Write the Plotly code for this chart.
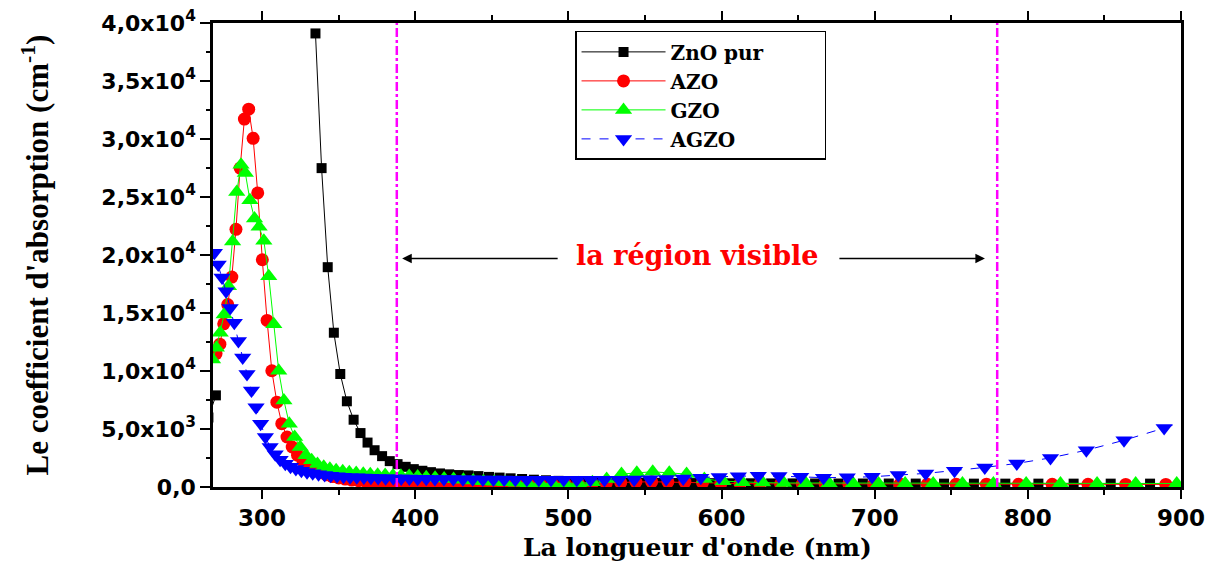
import plotly.graph_objects as go

# ---------------- data ----------------
wl_agzo = [916.8, 889.0, 862.8, 838.2, 814.8, 792.8, 771.9, 752.1, 733.3, 715.4, 698.3, 682.1,
           666.6, 651.7, 637.5, 624.0, 611.0, 598.5, 586.5, 575.0, 563.9, 553.3, 543.0, 533.1,
           523.6, 514.4, 505.5, 497.0, 488.7, 480.7, 472.9, 465.4, 458.1, 451.1, 444.2, 437.6,
           431.2, 424.9, 418.8, 412.9, 407.2, 401.6, 396.2, 390.9, 385.7, 380.7, 375.8, 371.1,
           366.5, 361.9, 357.5, 353.2, 349.0, 344.9, 340.9, 336.9, 333.1, 329.4, 325.7, 322.1,
           318.6, 315.2, 311.8, 308.6, 305.3, 302.2, 299.1, 296.1, 293.1, 290.2, 287.4, 284.6,
           281.9, 279.2, 276.5, 273.9, 271.4, 268.9]
alpha_agzo = [6280, 5080, 4030, 3170, 2510, 2030, 1690, 1400, 1170, 1030, 880, 830,
              800, 880, 940, 960, 930, 870, 790, 730, 690, 660, 640, 630,
              620, 620, 620, 620, 620, 625, 630, 635, 640, 645, 650, 660,
              670, 680, 690, 700, 710, 720, 730, 740, 750, 760, 775, 790,
              810, 830, 850, 880, 920, 970, 1030, 1100, 1180, 1280, 1400, 1550,
              1750, 2000, 2350, 2830, 3450, 4310, 5460, 6880, 8310, 9740, 11160, 12590,
              14160, 15440, 16870, 18070, 19180, 20190]

wl_azo = [917.9, 890.1, 863.9, 839.3, 815.9, 793.9, 773.0, 753.2, 734.4, 716.5, 699.4, 683.2,
          667.7, 652.8, 638.6, 625.1, 612.1, 599.6, 587.6, 576.1, 565.0, 554.4, 544.1, 534.2,
          524.7, 515.5, 506.6, 498.1, 489.8, 481.8, 474.0, 466.5, 459.2, 452.2, 445.3, 438.7,
          432.3, 426.0, 419.9, 414.0, 408.3, 402.7, 397.3, 392.0, 386.8, 381.8, 376.9, 372.2,
          367.6, 363.0, 358.6, 354.3, 350.1, 346.0, 342.0, 338.0, 334.2, 330.5, 326.8, 323.2,
          319.7, 316.3, 312.9, 309.7, 306.4, 303.3, 300.2, 297.2, 294.2, 291.3, 288.5, 285.7,
          283.0, 280.3, 277.6, 275.0, 272.5, 270.0]
alpha_azo = [220, 220, 220, 230, 230, 230, 240, 240, 240, 250, 250, 250,
             260, 260, 270, 280, 300, 330, 380, 430, 450, 450, 430, 380,
             320, 290, 270, 260, 250, 250, 250, 250, 250, 255, 260, 265,
             270, 280, 290, 300, 310, 320, 335, 350, 370, 390, 420, 450,
             490, 540, 600, 680, 780, 900, 1050, 1250, 1500, 1800, 2200, 2740,
             3450, 4310, 5460, 7310, 10020, 14360, 19590, 25350, 30060, 32570, 31720, 27490,
             22210, 18100, 15730, 14070, 12310, 11500]

wl_gzo = [925.6, 897.2, 870.4, 845.2, 821.3, 798.9, 777.5, 757.3, 738.2, 719.9, 702.5, 686.0,
          670.3, 655.1, 640.7, 626.9, 613.7, 601.0, 588.8, 577.2, 565.9, 555.1, 544.7, 534.7,
          525.0, 515.7, 506.7, 498.1, 489.7, 481.6, 473.7, 466.1, 458.7, 451.6, 444.6, 437.9,
          431.5, 425.1, 418.9, 413.0, 407.2, 401.6, 396.1, 390.7, 385.5, 380.4, 375.5, 370.7,
          366.1, 361.5, 357.0, 352.7, 348.4, 344.3, 340.3, 336.2, 332.4, 328.7, 324.9, 321.3,
          317.8, 314.3, 310.9, 307.7, 304.4, 301.2, 298.1, 295.1, 292.1, 289.1, 286.3, 283.5,
          280.8, 278.1, 275.3, 272.7, 270.2, 267.7]
alpha_gzo = [300, 300, 300, 300, 300, 300, 300, 300, 300, 300, 300, 310,
             320, 330, 350, 380, 420, 500, 700, 1110, 1220, 1310, 1220, 1110,
             700, 400, 330, 300, 300, 310, 330, 360, 400, 450, 500, 560,
             620, 680, 740, 800, 850, 900, 940, 970, 1000, 1030, 1060, 1100,
             1150, 1200, 1270, 1350, 1450, 1580, 1750, 1980, 2300, 2740, 3450, 4310,
             5460, 7450, 10020, 14020, 18160, 21220, 22440, 23150, 24730, 27070, 27780, 25440,
             21160, 17300, 14880, 13300, 12000, 11000]

wl_zno = [907.0, 879.8, 854.1, 829.9, 806.9, 785.3, 764.8, 745.3, 726.8, 709.2, 692.3, 676.4,
          661.1, 646.4, 632.4, 619.1, 606.3, 593.9, 582.1, 570.7, 559.7, 549.3, 539.1, 529.3,
          519.9, 510.8, 502.0, 493.6, 485.4, 477.5, 469.8, 462.3, 455.1, 448.2, 441.3, 434.8,
          428.5, 422.2, 416.2, 410.3, 404.7, 399.1, 393.8, 388.5, 383.4, 378.4, 373.5, 368.9,
          364.3, 359.8, 355.4, 351.1, 346.9, 342.9, 338.9, 334.9, None, 269.9, 265.0]
alpha_zno = [290, 290, 290, 290, 290, 290, 290, 290, 295, 300, 300, 300,
             305, 310, 310, 320, 320, 330, 340, 350, 360, 370, 380, 400,
             420, 450, 490, 530, 580, 630, 690, 750, 810, 870, 940, 1000,
             1030, 1090, 1170, 1280, 1400, 1540, 1740, 1970, 2230, 2660, 3170, 3830,
             4650, 5800, 7390, 9740, 13300, 18950, 27490, 39100, None, 7900, 6000]

series_names = ["ZnO pur", "AZO", "GZO", "AGZO"]
visible_limits = [388, 780]          # nm, dash-dot limits of the visible region
region_label = "la région visible"
x_title = "La longueur d'onde (nm)"
y_title = "Le coefficient d'absorption (cm<sup>-1</sup>)"
y_tickvals = [0, 5000, 10000, 15000, 20000, 25000, 30000, 35000, 40000]
y_ticktext = ["0,0", "5,0x10<sup>3</sup>", "1,0x10<sup>4</sup>", "1,5x10<sup>4</sup>",
              "2,0x10<sup>4</sup>", "2,5x10<sup>4</sup>", "3,0x10<sup>4</sup>",
              "3,5x10<sup>4</sup>", "4,0x10<sup>4</sup>"]
y_minor = [2500, 7500, 12500, 17500, 22500, 27500, 32500, 37500]

# ---------------- figure ----------------
fig = go.Figure()
fig.add_trace(go.Scatter(x=wl_zno, y=alpha_zno, name=series_names[0] + "\u00a0" * 8,
                         mode="lines+markers", line=dict(color="black", width=1),
                         marker=dict(symbol="square", size=10, color="black")))
fig.add_trace(go.Scatter(x=wl_azo, y=alpha_azo, name=series_names[1], mode="lines+markers",
                         line=dict(color="red", width=1),
                         marker=dict(symbol="circle", size=13, color="red")))
fig.add_trace(go.Scatter(x=wl_gzo, y=alpha_gzo, name=series_names[2], mode="lines+markers",
                         line=dict(color="#00ff00", width=1),
                         marker=dict(symbol="triangle-up", size=15, color="#00ff00")))
fig.add_trace(go.Scatter(x=wl_agzo, y=alpha_agzo, name=series_names[3], mode="lines+markers",
                         line=dict(color="blue", width=1, dash="dash"),
                         marker=dict(symbol="triangle-down", size=15, color="blue")))

for xv in visible_limits:
    fig.add_shape(type="line", xref="x", yref="paper", x0=xv, x1=xv, y0=0, y1=1,
                  line=dict(color="#ff00ff", width=2.5, dash="dashdot"))

arrow_y = 19700
fig.add_annotation(x=391.5, y=arrow_y, ax=494, ay=arrow_y, xref="x", yref="y", axref="x", ayref="y",
                   text="", showarrow=True, arrowhead=2, arrowsize=1.2, arrowwidth=1.6, arrowcolor="black")
fig.add_annotation(x=772, y=arrow_y, ax=676, ay=arrow_y, xref="x", yref="y", axref="x", ayref="y",
                   text="", showarrow=True, arrowhead=2, arrowsize=1.2, arrowwidth=1.6, arrowcolor="black")
fig.add_annotation(x=584, y=arrow_y, xref="x", yref="y", text=region_label, showarrow=False,
                   yshift=3,
                   font=dict(family="DejaVu Serif", size=27, color="red", weight="bold"))
# x-axis title
fig.add_annotation(x=0.5, y=0, xref="paper", yref="paper", text=x_title, showarrow=False,
                   xanchor="center", yanchor="top", yshift=-44,
                   font=dict(family="DejaVu Serif", size=25, color="black", weight="bold"))

fig.update_layout(
    width=1222, height=564,
    margin=dict(l=205, r=49, t=15, b=85),
    plot_bgcolor="white", paper_bgcolor="white",
    showlegend=True,
    legend=dict(x=0.374, y=0.983, xanchor="left", yanchor="top",
                bgcolor="white", bordercolor="black", borderwidth=1.5,
                font=dict(family="DejaVu Serif", size=20, color="black", weight="bold"),
                tracegroupgap=0, itemwidth=84),
)
fig.update_xaxes(range=[268, 900], dtick=100, tick0=300, automargin=False, ticklabeloverflow="allow",
                 showline=True, linecolor="black", linewidth=2.5, mirror="ticks",
                 ticks="outside", ticklen=9, tickwidth=2, tickcolor="black",
                 minor=dict(dtick=50, ticks="outside", ticklen=5, tickwidth=1.5, tickcolor="black"),
                 showgrid=False, zeroline=False,
                 tickfont=dict(family="DejaVu Sans", size=23, color="black", weight="bold"))
fig.update_yaxes(range=[0, 40000], tickvals=y_tickvals, ticktext=y_ticktext, automargin=False,
                 ticklabeloverflow="allow",
                 showline=True, linecolor="black", linewidth=2.5, mirror=True,
                 ticks="outside", ticklen=10, tickwidth=2, tickcolor="black",
                 minor=dict(tickvals=y_minor, ticks="outside", ticklen=4, tickwidth=1.5, tickcolor="black"),
                 showgrid=False, zeroline=False,
                 tickfont=dict(family="DejaVu Sans", size=22, color="black", weight="bold"),
                 title=dict(text=y_title, standoff=44,
                            font=dict(family="Liberation Serif", size=31, color="black", weight="bold")))

fig.write_html("out.html")
